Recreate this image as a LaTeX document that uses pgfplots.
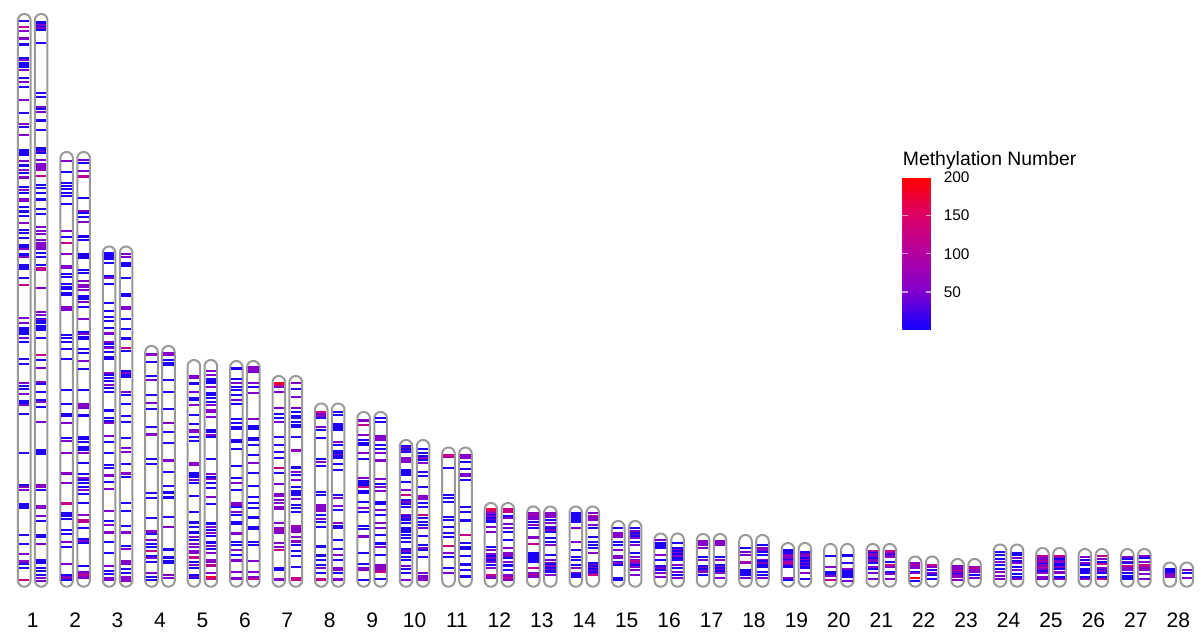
\documentclass[border=0pt]{standalone}
\usepackage{fontspec}
\setmainfont{Liberation Sans}
\usepackage{pgfplots}
\usepackage{pgfplotstable}
\pgfplotsset{compat=1.18}
\pgfplotsset{/pgf/number format/assume math mode=true}
\pgfplotsset{
  band/.style={scatter, only marks, mark=-, mark size=2.6pt, point meta=explicit,
    scatter/use mapped color={draw=mapped color}, mark options={line width=0.9pt}},
  chr/.style={draw=black!40, line width=1pt, mark=none, forget plot},
}
% outline of one chromosome: t = angle, b = 0 bottom end, 1 top end
\pgfplotstableread[row sep=\\]{t b\\180 0\\195 0\\210 0\\225 0\\240 0\\255 0\\270 0\\285 0\\300 0\\315 0\\330 0\\345 0\\360 0\\0 1\\15 1\\30 1\\45 1\\60 1\\75 1\\90 1\\105 1\\120 1\\135 1\\150 1\\165 1\\180 1\\180 0\\}\outline
\newcommand{\chrom}[2]{%
  \addplot[chr] table[x expr={#1-0.2+0.148*cos(\thisrow{t})}, y expr={5.6+\thisrow{b}*(#2-11.9)+6.3*sin(\thisrow{t})}]{\outline};
  \addplot[chr] table[x expr={#1+0.2+0.148*cos(\thisrow{t})}, y expr={5.6+\thisrow{b}*(#2-11.9)+6.3*sin(\thisrow{t})}]{\outline};}
\newcommand{\bands}[2]{\addplot[band] table[header=false, x expr=#1, y index=0, meta index=1, row sep=\\]{#2};}
\begin{document}
\begin{tikzpicture}
\begin{axis}[
  scale only axis, width=601pt, height=320.5pt,
  xmin=0.229, xmax=28.559, ymin=-55, ymax=586,
  axis line style={draw=none}, tick style={draw=none},
  ytick=\empty, xtick={1,...,28},
  xticklabel style={anchor=base, yshift=6.65pt, inner sep=0pt, font=\fontsize{10.5}{12}\selectfont},
  clip=false,
  colormap={meth}{rgb255=(20,0,255) rgb255=(130,0,205) rgb255=(180,0,160) rgb255=(220,0,105) rgb255=(255,0,0)},
  point meta min=1.5, point meta max=200,
  colorbar,
  colorbar style={scale only axis, width=15pt, height=76pt,
    at={(parent axis.north west)}, anchor=north west, xshift=442.7pt, yshift=-88.6pt,
    axis line style={draw=none},
    ytick={50,100,150,200}, tick align=inside, ytick pos=both,
    major tick length=3pt, ytick style={draw=white, draw opacity=0.6, line width=0.6pt},
    yticklabel pos=right,
    yticklabel style={font=\fontsize{7.7}{9}\selectfont, inner sep=0pt, xshift=5.5pt},
    title={Methylation Number},
    title style={at={(0,1)}, anchor=base west, inner sep=0pt, yshift=-0.2pt, font=\fontsize{9.7}{11}\selectfont},
  },
]
% ---- bands (y position, methylation number) ----
\bands{0.8}{565 5\\559 120\\555 55\\548 55\\547 50\\542 5\\541 5\\528 5\\526 50\\523 5\\521 5\\519 5\\516 50\\508 5\\504 50\\499 5\\486 50\\473 5\\462 50\\459 5\\451 50\\436 5\\434 5\\433 5\\431 5\\425 50\\421 5\\420 5\\416 55\\413 5\\409 55\\408 50\\399 5\\396 50\\393 5\\387 55\\385 55\\379 5\\375 5\\374 5\\370 5\\363 55\\356 5\\353 5\\348 5\\341 5\\339 5\\337 55\\332 5\\330 5\\329 50\\321 5\\319 5\\317 5\\308 5\\301 120\\268 50\\263 50\\258 5\\256 5\\254 5\\252 5\\248 50\\244 5\\227 5\\222 5\\203 50\\200 5\\197 5\\192 50\\185 5\\183 5\\181 50\\172 5\\133 5\\101 5\\99 50\\96 50\\82 5\\80 5\\78 5\\51 5\\42 5\\32 50\\25 55\\24 55\\22 5\\18 5\\6 120\\}
\bands{1.2}{564 5\\563 5\\561 50\\559 5\\558 50\\556 5\\543 5\\493 5\\489 5\\479 50\\477 5\\474 50\\466 5\\465 5\\456 5\\438 5\\436 5\\434 50\\433 5\\426 50\\422 55\\420 55\\418 55\\416 55\\410 120\\401 5\\398 5\\393 5\\387 5\\386 5\\377 5\\372 5\\359 50\\355 50\\352 50\\346 50\\343 55\\341 55\\339 55\\337 50\\333 5\\329 5\\321 5\\318 120\\316 110\\298 50\\274 50\\271 50\\267 5\\266 50\\265 5\\263 5\\260 5\\258 5\\256 5\\248 5\\231 120\\226 5\\218 50\\204 50\\202 5\\194 5\\186 5\\184 50\\179 5\\164 50\\136 5\\134 5\\132 5\\101 55\\99 55\\96 5\\80 55\\78 55\\70 50\\65 5\\51 5\\49 5\\42 50\\26 5\\24 5\\23 5\\18 5\\15 5\\11 5\\8 50\\5 50\\}
\bands{1.8}{425 55\\414 5\\403 5\\400 5\\397 5\\393 5\\390 5\\382 5\\355 50\\349 5\\343 120\\332 55\\320 50\\318 50\\312 5\\309 5\\302 5\\299 5\\297 5\\293 5\\291 5\\279 55\\278 55\\276 50\\251 5\\248 5\\244 5\\237 5\\227 5\\196 5\\182 5\\172 5\\170 5\\163 50\\148 5\\145 50\\133 50\\113 55\\112 55\\103 50\\83 130\\82 120\\73 5\\71 5\\70 5\\67 5\\56 5\\52 5\\44 50\\39 5\\22 50\\11 5\\9 50\\8 55\\6 5\\}
\bands{2.2}{426 50\\423 5\\415 50\\410 120\\409 110\\388 5\\375 50\\373 5\\369 5\\364 50\\350 5\\349 5\\346 5\\332 5\\330 5\\328 5\\316 5\\313 5\\305 50\\301 55\\299 55\\296 55\\290 5\\289 5\\287 5\\284 50\\279 5\\267 50\\254 5\\252 50\\249 5\\247 5\\237 5\\233 5\\225 50\\217 5\\196 5\\182 55\\180 55\\178 50\\171 5\\170 5\\149 5\\147 5\\144 5\\139 5\\138 5\\136 5\\133 50\\123 5\\112 5\\108 50\\106 5\\103 5\\99 5\\96 50\\92 5\\83 5\\71 60\\66 120\\64 110\\58 5\\47 5\\45 50\\43 5\\20 5\\14 55\\13 55\\11 110\\9 55\\8 55\\}
\bands{2.8}{333 5\\331 5\\329 5\\327 5\\323 5\\310 5\\308 50\\302 5\\283 5\\275 5\\269 5\\265 5\\258 5\\253 55\\252 50\\244 50\\242 5\\239 5\\238 50\\234 5\\229 5\\227 5\\213 50\\211 5\\208 5\\205 5\\201 50\\198 5\\194 5\\176 5\\175 5\\168 5\\165 5\\163 50\\150 50\\144 5\\133 5\\121 5\\118 5\\111 55\\110 55\\104 5\\97 50\\75 50\\65 5\\61 50\\54 55\\53 55\\44 5\\33 5\\20 50\\15 5\\12 5\\8 50\\6 50\\}
\bands{3.2}{332 50\\329 50\\323 5\\322 5\\320 5\\308 5\\292 5\\290 5\\279 50\\277 50\\267 5\\257 5\\248 5\\247 5\\238 120\\235 5\\215 5\\213 50\\211 5\\209 5\\194 50\\191 5\\182 5\\170 5\\164 5\\148 5\\138 50\\134 50\\122 5\\113 55\\112 55\\109 5\\83 5\\75 5\\60 5\\54 55\\53 55\\40 5\\37 50\\25 55\\23 55\\22 50\\17 5\\13 5\\9 55\\7 55\\5 50\\}
\bands{3.8}{232 55\\231 55\\224 5\\210 5\\206 50\\191 5\\183 50\\177 5\\159 5\\152 55\\151 55\\127 5\\122 5\\93 5\\88 5\\68 5\\55 55\\54 55\\52 5\\46 50\\42 5\\39 5\\35 120\\30 5\\28 50\\24 5\\13 50\\9 5\\6 5\\}
\bands{4.2}{233 55\\232 55\\231 55\\226 5\\223 5\\221 5\\206 5\\194 5\\177 5\\163 50\\154 5\\143 5\\126 55\\125 55\\114 5\\100 5\\94 5\\93 5\\89 5\\88 5\\69 5\\59 50\\37 5\\36 5\\29 5\\28 5\\25 5\\24 5\\23 5\\11 50\\8 50\\}
\bands{4.8}{210 55\\209 55\\208 55\\203 5\\202 5\\194 50\\188 5\\186 5\\181 50\\171 5\\162 5\\156 55\\155 55\\154 55\\149 5\\145 5\\123 55\\122 55\\121 55\\113 5\\112 5\\111 5\\110 5\\109 5\\106 50\\103 5\\90 5\\74 5\\64 5\\63 5\\59 5\\54 5\\53 5\\49 50\\46 5\\42 50\\39 50\\35 55\\34 55\\33 55\\29 130\\28 120\\24 5\\21 50\\18 5\\11 5\\10 5\\9 50\\8 5\\}
\bands{5.2}{215 50\\211 50\\207 5\\206 5\\205 5\\204 5\\203 5\\199 50\\193 5\\192 5\\191 5\\188 5\\184 5\\181 50\\176 55\\175 55\\174 55\\169 50\\156 5\\155 5\\154 5\\151 50\\149 5\\127 5\\112 50\\109 5\\107 50\\103 5\\98 5\\89 50\\82 5\\63 5\\62 5\\59 50\\56 5\\53 50\\50 5\\44 5\\43 5\\40 50\\37 5\\33 50\\26 60\\25 60\\24 55\\21 120\\20 110\\13 50\\9 185\\8 150\\7 120\\}
\bands{5.8}{218 5\\217 5\\207 5\\203 50\\199 5\\196 5\\191 5\\186 50\\182 5\\167 5\\163 5\\159 5\\158 5\\157 5\\146 5\\145 5\\144 5\\137 5\\120 5\\108 5\\103 50\\96 5\\83 55\\82 55\\81 55\\79 5\\74 50\\71 5\\64 5\\62 5\\53 55\\52 55\\44 5\\41 5\\36 50\\31 5\\26 55\\25 55\\14 50\\8 55\\7 55\\}
\bands{6.2}{219 55\\218 55\\217 55\\216 55\\215 55\\214 55\\203 50\\199 5\\193 50\\167 50\\160 5\\159 5\\158 5\\157 5\\148 5\\147 5\\146 5\\141 5\\131 5\\123 50\\113 5\\100 5\\89 5\\83 5\\78 5\\69 5\\68 5\\59 5\\58 5\\57 5\\44 5\\41 5\\25 50\\14 50\\9 50\\7 120\\}
\bands{6.8}{203 190\\202 180\\201 150\\199 50\\194 50\\178 50\\172 5\\168 5\\164 50\\149 5\\141 5\\134 5\\128 5\\118 120\\113 5\\102 50\\92 55\\91 55\\90 55\\86 50\\83 50\\79 55\\78 55\\77 55\\63 50\\58 55\\57 60\\56 110\\55 60\\54 55\\53 55\\43 50\\39 50\\36 120\\18 5\\16 5\\7 55\\6 55\\}
\bands{7.2}{203 50\\197 5\\189 50\\178 50\\174 5\\170 5\\169 5\\168 5\\164 5\\161 5\\160 5\\159 5\\149 5\\136 55\\135 55\\119 5\\118 5\\114 50\\111 5\\106 50\\99 5\\95 5\\94 5\\93 5\\92 5\\91 5\\87 50\\81 5\\78 5\\74 5\\60 120\\59 60\\58 55\\57 60\\56 55\\55 60\\54 55\\49 50\\45 55\\44 55\\41 5\\35 5\\30 5\\19 5\\8 120\\7 130\\6 120\\}
\bands{7.8}{174 130\\173 120\\172 60\\171 55\\170 55\\168 5\\159 50\\156 5\\148 5\\127 5\\124 50\\120 5\\94 5\\91 5\\81 55\\80 55\\79 55\\77 55\\76 55\\75 55\\71 5\\67 50\\64 5\\59 5\\40 5\\39 5\\31 5\\30 5\\26 5\\21 5\\18 50\\13 5\\7 120\\6 110\\}
\bands{8.2}{174 5\\171 5\\162 5\\161 5\\160 5\\159 5\\158 5\\157 5\\156 5\\144 50\\141 5\\135 5\\134 5\\133 5\\131 50\\130 5\\129 5\\128 5\\122 5\\116 5\\91 5\\88 50\\80 50\\76 5\\63 50\\60 5\\59 5\\58 5\\46 5\\37 5\\31 50\\26 5\\18 55\\17 55\\16 55\\13 5\\7 55\\6 50\\}
\bands{8.8}{166 55\\165 55\\161 120\\151 50\\146 5\\143 5\\141 5\\133 50\\127 5\\108 50\\105 5\\104 5\\103 5\\102 5\\101 5\\99 120\\95 5\\94 5\\93 5\\84 5\\78 50\\74 5\\60 5\\57 5\\50 55\\49 55\\33 5\\22 5\\18 55\\17 55\\16 55\\6 5\\}
\bands{9.2}{168 5\\164 5\\150 55\\149 55\\148 55\\146 55\\141 5\\137 5\\133 50\\126 55\\125 55\\107 50\\102 5\\99 50\\95 50\\84 5\\83 5\\82 5\\76 50\\71 5\\63 50\\58 50\\51 5\\43 5\\42 5\\39 50\\31 5\\21 55\\20 55\\19 55\\18 60\\17 60\\16 55\\15 120\\14 110\\7 5\\}
\bands{9.8}{140 5\\139 5\\138 50\\137 5\\136 5\\135 50\\134 5\\128 55\\127 55\\126 55\\125 55\\124 55\\116 5\\115 5\\114 5\\113 5\\112 5\\111 5\\104 5\\96 50\\91 120\\86 5\\84 50\\82 5\\79 5\\71 55\\70 5\\69 5\\68 55\\67 5\\66 5\\63 5\\58 5\\57 5\\56 5\\55 5\\54 5\\51 5\\48 5\\44 5\\37 5\\35 50\\33 5\\29 5\\26 5\\20 50\\17 5\\13 5\\6 50\\}
\bands{10.2}{137 5\\133 5\\130 5\\129 5\\128 50\\127 50\\126 5\\123 50\\114 5\\110 5\\99 5\\90 55\\89 55\\88 55\\87 55\\83 5\\79 5\\71 120\\68 5\\64 5\\61 5\\58 50\\50 5\\41 5\\38 55\\37 50\\36 5\\29 5\\13 50\\10 55\\9 55\\8 55\\7 55\\6 55\\}
\bands{10.8}{131 130\\130 120\\129 110\\118 5\\91 5\\88 5\\84 5\\69 5\\66 5\\59 5\\53 5\\49 5\\40 120\\33 50\\29 5\\18 5\\13 50\\}
\bands{11.2}{131 55\\130 55\\129 55\\128 55\\124 5\\117 5\\112 50\\110 50\\106 5\\79 5\\74 5\\66 5\\65 5\\51 120\\43 5\\39 5\\37 5\\30 5\\22 5\\21 5\\16 5\\10 5\\9 5\\}
\bands{11.8}{77 175\\76 170\\75 140\\74 120\\73 60\\72 55\\71 5\\70 55\\69 50\\68 5\\67 5\\66 50\\65 5\\64 5\\59 50\\54 50\\39 5\\36 50\\32 55\\31 50\\30 5\\29 5\\28 50\\27 55\\26 5\\25 5\\24 50\\21 5\\18 50\\11 130\\10 110\\9 55\\8 55\\}
\bands{12.2}{77 120\\76 130\\75 120\\74 120\\70 5\\68 50\\62 50\\58 50\\54 5\\46 5\\38 50\\33 55\\32 50\\30 55\\28 5\\24 50\\21 5\\20 5\\16 5\\11 55\\10 55\\9 55\\8 130\\7 110\\6 55\\}
\bands{12.8}{73 55\\72 55\\71 120\\70 55\\69 55\\68 55\\67 55\\64 5\\61 50\\58 5\\49 50\\48 50\\42 120\\33 5\\32 5\\31 5\\30 5\\29 5\\28 5\\27 5\\26 5\\25 5\\24 5\\18 120\\13 55\\12 55\\11 120\\10 55\\9 55\\}
\bands{13.2}{73 55\\72 55\\71 55\\70 55\\69 55\\66 5\\63 50\\59 50\\58 5\\57 5\\56 50\\54 5\\48 5\\44 5\\41 50\\31 5\\26 50\\23 55\\22 5\\21 5\\20 55\\19 55\\18 5\\17 5\\16 55\\15 5\\14 5\\11 50\\}
\bands{13.8}{73 5\\72 5\\71 5\\70 5\\69 5\\68 5\\67 5\\66 5\\65 5\\64 5\\58 50\\44 50\\36 5\\29 5\\26 5\\21 5\\18 50\\13 50\\12 5\\11 5\\9 5\\}
\bands{14.2}{73 50\\70 120\\69 55\\68 55\\66 55\\61 50\\58 5\\49 5\\44 5\\41 5\\38 5\\33 50\\23 5\\22 5\\21 50\\20 5\\19 5\\18 50\\17 5\\16 5\\15 50\\14 5\\13 5\\12 55\\11 130\\}
\bands{14.8}{58 5\\53 55\\52 55\\51 55\\50 55\\49 55\\44 5\\41 5\\36 50\\30 55\\29 55\\28 55\\24 5\\23 50\\21 5\\8 5\\7 5\\6 5\\}
\bands{15.2}{58 5\\55 50\\54 55\\53 5\\52 5\\51 50\\50 5\\49 5\\48 50\\44 5\\41 50\\33 5\\29 50\\26 55\\25 120\\24 110\\23 55\\21 5\\19 50\\16 50\\11 50\\}
\bands{15.8}{46 50\\43 5\\42 5\\41 5\\40 5\\39 5\\38 5\\31 50\\26 5\\20 5\\19 5\\18 50\\16 5\\13 50\\9 50\\}
\bands{16.2}{43 5\\38 5\\37 5\\36 55\\35 5\\34 5\\33 55\\32 5\\31 5\\30 55\\29 55\\28 5\\27 5\\26 5\\21 50\\18 5\\14 50\\11 5\\8 50\\}
\bands{16.8}{45 55\\44 55\\43 55\\42 55\\41 55\\38 50\\29 5\\26 50\\20 5\\19 5\\18 50\\17 5\\16 5\\15 50\\14 55\\11 5\\}
\bands{17.2}{45 55\\44 55\\43 55\\42 55\\41 55\\29 5\\26 50\\21 5\\20 5\\19 55\\18 5\\17 5\\16 55\\15 5\\14 5\\13 55\\8 50\\}
\bands{17.8}{38 5\\34 50\\31 50\\24 120\\23 55\\16 5\\15 5\\14 5\\13 5\\12 5\\11 5\\8 50\\}
\bands{18.2}{41 5\\38 55\\36 55\\34 5\\31 5\\26 55\\25 5\\24 5\\23 55\\21 5\\20 5\\19 5\\14 5\\11 5\\8 50\\}
\bands{18.8}{36 5\\35 5\\34 5\\33 5\\31 55\\30 55\\29 60\\28 55\\27 55\\26 5\\25 55\\24 60\\23 120\\22 110\\21 55\\20 5\\19 5\\8 50\\6 5\\}
\bands{19.2}{34 5\\32 50\\30 55\\29 55\\28 5\\27 5\\26 55\\25 5\\24 5\\23 55\\22 5\\21 5\\20 55\\19 5\\18 5\\13 50\\7 5\\}
\bands{19.8}{30 5\\19 50\\14 5\\12 5\\10 50\\6 120\\}
\bands{20.2}{31 5\\30 5\\23 5\\17 50\\15 5\\14 5\\13 5\\12 5\\11 5\\10 5\\9 5\\5 50\\}
\bands{20.8}{35 130\\34 55\\33 5\\32 55\\31 55\\30 55\\29 55\\28 5\\27 5\\26 55\\25 55\\24 55\\23 5\\19 50\\17 5\\13 50\\7 50\\}
\bands{21.2}{35 120\\34 120\\33 55\\32 55\\31 5\\30 55\\29 55\\24 5\\21 130\\19 50\\14 5\\12 50\\7 50\\}
\bands{21.8}{23 55\\22 55\\21 120\\20 55\\19 55\\18 55\\14 5\\13 50\\8 190\\5 5\\}
\bands{22.2}{21 120\\19 50\\16 5\\13 50\\11 5\\7 5\\}
\bands{22.8}{20 55\\19 55\\18 55\\17 55\\16 55\\15 110\\14 55\\13 55\\12 5\\11 55\\10 55\\9 55\\6 55\\}
\bands{23.2}{19 55\\18 120\\17 110\\16 55\\15 55\\14 55\\11 5\\8 50\\}
\bands{23.8}{34 5\\31 5\\27 5\\24 50\\21 5\\17 5\\14 50\\10 50\\7 50\\}
\bands{24.2}{33 5\\31 5\\28 50\\25 5\\23 50\\19 5\\16 50\\12 5\\9 5\\7 50\\}
\bands{24.8}{30 120\\29 110\\28 55\\27 55\\26 55\\25 110\\24 55\\23 55\\22 5\\21 55\\20 55\\19 55\\18 110\\17 55\\16 55\\15 5\\14 5\\13 55\\9 50\\7 50\\}
\bands{25.2}{30 120\\29 110\\28 55\\27 5\\26 5\\25 55\\24 55\\23 55\\22 5\\21 5\\19 55\\18 55\\17 5\\14 55\\13 55\\9 5\\7 50\\}
\bands{25.8}{29 50\\26 5\\23 50\\21 5\\17 5\\16 5\\15 5\\14 5\\13 5\\9 5\\7 50\\}
\bands{26.2}{30 120\\27 50\\24 5\\22 120\\18 55\\17 55\\16 5\\15 55\\14 55\\13 5\\9 5\\7 120\\}
\bands{26.8}{29 50\\27 5\\24 50\\23 5\\20 120\\19 110\\18 55\\17 55\\16 55\\13 5\\10 5\\9 5\\7 5\\}
\bands{27.2}{30 50\\28 5\\24 50\\21 120\\20 120\\19 110\\18 55\\17 55\\16 55\\12 50\\7 50\\}
\bands{27.8}{17 5\\16 5\\15 5\\14 5\\12 50\\10 55\\9 55\\}
\bands{28.2}{16 50\\13 5\\8 50\\}
% ---- chromosome outlines (pair, length) ----
\chrom{1}{572}
\chrom{2}{434}
\chrom{3}{339.5}
\chrom{4}{240}
\chrom{5}{226}
\chrom{6}{225}
\chrom{7}{210}
\chrom{8}{182.5}
\chrom{9}{174}
\chrom{10}{146}
\chrom{11}{138.5}
\chrom{12}{83}
\chrom{13}{79.5}
\chrom{14}{79.5}
\chrom{15}{65}
\chrom{16}{52.5}
\chrom{17}{52}
\chrom{18}{51}
\chrom{19}{43}
\chrom{20}{42}
\chrom{21}{42}
\chrom{22}{29.5}
\chrom{23}{27}
\chrom{24}{41.5}
\chrom{25}{38}
\chrom{26}{37}
\chrom{27}{37}
\chrom{28}{23.5}
\end{axis}
\end{tikzpicture}
\end{document}
